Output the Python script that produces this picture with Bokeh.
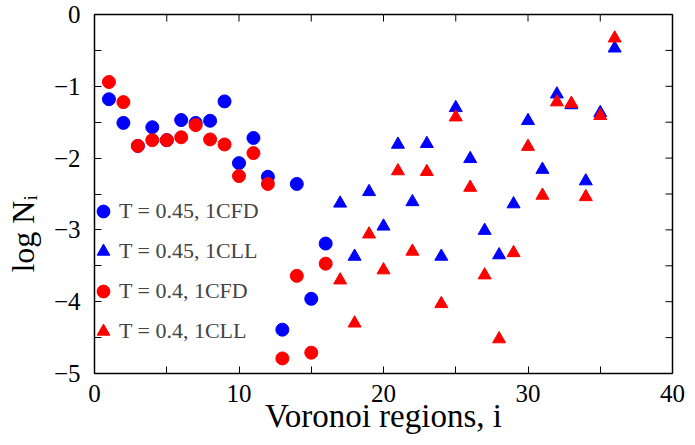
from bokeh.plotting import figure
from bokeh.models import Range1d, Legend, LegendItem, FixedTicker
from bokeh.embed import file_html
from bokeh.resources import INLINE

# ---- data ----
cfd_x = list(range(1, 17))
cfd_045 = [-1.18, -1.51, -1.83, -1.57, -1.75, -1.47, -1.51, -1.48, -1.21, -2.07,
           -1.72, -2.26, -4.39, -2.36, -3.96, -3.19]
cfd_040 = [-0.94, -1.22, -1.83, -1.75, -1.75, -1.71, -1.54, -1.74, -1.81, -2.25,
           -1.93, -2.36, -4.79, -3.64, -4.71, -3.47]
cll_x = list(range(17, 37))
cll_045 = [-2.63, -3.37, -2.47, -2.95, -1.81, -2.61, -1.80, -3.37, -1.30, -2.01,
           -3.01, -3.35, -2.64, -1.48, -2.16, -1.11, -1.26, -2.32, -1.37, -0.47]
cll_040 = [-3.70, -4.30, -3.06, -3.56, -2.18, -3.30, -2.19, -4.03, -1.43, -2.41,
           -3.63, -4.52, -3.32, -1.84, -2.52, -1.22, -1.24, -2.54, -1.41, -0.33]
labels = ["T = 0.45, 1CFD", "T = 0.45, 1CLL", "T = 0.4, 1CFD", "T = 0.4, 1CLL"]
x_ticks = [0, 10, 20, 30, 40]
x_minor = [5, 15, 25, 35]
y_ticks = [-5, -4, -3, -2, -1, 0]
y_minor = [-4.5, -3.5, -2.5, -1.5, -0.5]

FONT = "Liberation Serif"
W, H = 694, 444
BL, BR, BT, BB = 94, 22, 14, 71
FRAME_W, FRAME_H = W - BL - BR, H - BT - BB
TICK = 7

p = figure(width=W, height=H, output_backend="svg", toolbar_location=None,
           x_range=Range1d(0, 40), y_range=Range1d(-5, 0),
           min_border_left=BL, min_border_right=BR, min_border_top=BT,
           min_border_bottom=BB, background_fill_color="white",
           border_fill_color="white")
p.grid.visible = False
p.outline_line_color = "black"
p.outline_line_width = 1.5

r1 = p.scatter(cfd_x, cfd_045, marker="circle", size=13, color="#0000ff")
r3 = p.scatter(cfd_x, cfd_040, marker="circle", size=13, color="#ff0000")
r2 = p.scatter(cll_x, cll_045, marker="triangle", size=13, color="#0000ff")
r4 = p.scatter(cll_x, cll_040, marker="triangle", size=13, color="#ff0000")

# ticks on the top and right edges of the frame
xt = x_ticks + x_minor
dy = TICK * 5.0 / FRAME_H
p.segment(x0=xt, y0=[0] * len(xt), x1=xt, y1=[-dy] * len(xt),
          line_color="black", line_width=1)
yt = y_ticks + y_minor
dx = TICK * 40.0 / FRAME_W
p.segment(x0=[40] * len(yt), y0=yt, x1=[40 - dx] * len(yt), y1=yt,
          line_color="black", line_width=1)

def style(ax):
    ax.axis_line_color = None
    ax.major_tick_in = TICK
    ax.major_tick_out = 0
    ax.minor_tick_in = TICK
    ax.minor_tick_out = 0
    ax.major_tick_line_color = "black"
    ax.minor_tick_line_color = "black"
    ax.major_label_text_font = FONT
    ax.major_label_text_color = "black"
    ax.major_label_text_font_size = "25px"
    ax.axis_label_text_font = FONT
    ax.axis_label_text_font_size = "33px"
    ax.axis_label_text_font_style = "normal"
    ax.axis_label_text_color = "black"

xa = p.xaxis[0]
xa.ticker = FixedTicker(ticks=x_ticks, minor_ticks=x_minor)
style(xa)
xa.major_label_standoff = 11
xa.axis_label = "Voronoi regions, i"
xa.axis_label_standoff = -7

ya = p.yaxis[0]
ya.ticker = FixedTicker(ticks=y_ticks, minor_ticks=y_minor)
style(ya)
ya.major_label_overrides = {t: str(t).replace("-", "\u2212") for t in y_ticks}
ya.major_label_standoff = 14
ya.axis_label = "log N\u1d62" + "\u00a0" * 10
ya.axis_label_text_font_size = "32px"
ya.axis_label_standoff = 10

legend = Legend(items=[LegendItem(label=labels[0], renderers=[r1]),
                       LegendItem(label=labels[1], renderers=[r2]),
                       LegendItem(label=labels[2], renderers=[r3]),
                       LegendItem(label=labels[3], renderers=[r4])],
                location=(-7, 26), padding=0, margin=0, spacing=8,
                glyph_width=32, glyph_height=32, label_height=32,
                label_standoff=-6, label_text_font=FONT,
                label_text_font_size="22px", border_line_color=None,
                background_fill_alpha=0)
p.add_layout(legend)

open("out.html", "w").write(file_html(p, INLINE))
